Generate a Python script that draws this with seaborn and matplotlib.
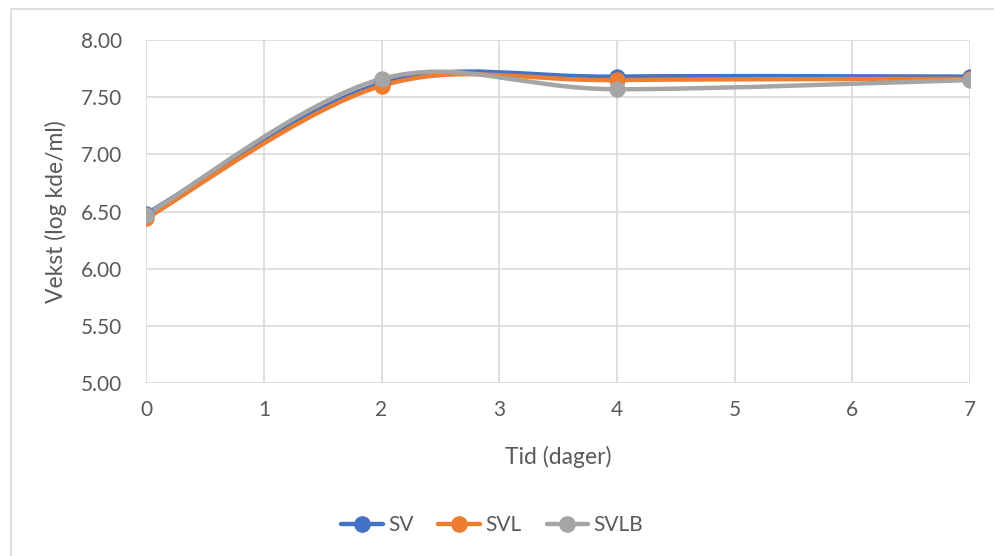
import numpy as np
import matplotlib
matplotlib.use("Agg")
import matplotlib.pyplot as plt
import seaborn as sns
import pandas as pd
from matplotlib.path import Path
from matplotlib.patches import PathPatch, Rectangle
from matplotlib.lines import Line2D

# data
days = [0, 2, 4, 7]
sv = [6.48, 7.62, 7.68, 7.68]
svl = [6.44, 7.60, 7.65, 7.66]
svlb = [6.47, 7.66, 7.57, 7.65]
series_names = ["SV", "SVL", "SVLB"]
colors = ["#4472C4", "#ED7D31", "#A5A5A5"]

df = pd.DataFrame({"Tid": days * 3,
                   "Vekst": sv + svl + svlb,
                   "Serie": np.repeat(series_names, len(days))})

sns.set_style("white")
plt.rcParams["font.family"] = ["Lato", "DejaVu Sans"]

fig = plt.figure(figsize=(9.94, 5.56), dpi=100)
ax = fig.add_axes([0.147, 0.311, 0.829, 0.617])


def smooth_path(x, y):
    # Excel-style smoothed line: cubic Bezier with Catmull-Rom control points
    pts = np.column_stack([x, y]).astype(float)
    n = len(pts)
    verts = [pts[0]]
    codes = [Path.MOVETO]
    for i in range(n - 1):
        p0 = pts[i - 1] if i > 0 else pts[i]
        p1 = pts[i]
        p2 = pts[i + 1]
        p3 = pts[i + 2] if i + 2 < n else pts[i + 1]
        c1 = p1 + (p2 - p0) / 6.0
        c2 = p2 - (p3 - p1) / 6.0
        verts += [c1, c2, p2]
        codes += [Path.CURVE4] * 3
    return Path(verts, codes)


for name, col in zip(series_names, colors):
    sub = df[df["Serie"] == name]
    patch = PathPatch(smooth_path(sub["Tid"].values, sub["Vekst"].values),
                      facecolor="none", edgecolor=col, lw=3.2,
                      capstyle="round", joinstyle="round", zorder=3)
    ax.add_patch(patch)
    sns.scatterplot(data=sub, x="Tid", y="Vekst", color=col, s=140,
                    edgecolor=col, linewidth=0, ax=ax, zorder=4, legend=False)

ax.set_xlim(0, 7)
ax.set_ylim(5, 8)
ax.set_xticks(range(8))
ax.set_yticks(np.arange(5, 8.01, 0.5))
ax.set_yticklabels([f"{v:.2f}" for v in np.arange(5, 8.01, 0.5)])
ax.grid(True, color="#d9d9d9", lw=1.2)
ax.set_axisbelow(True)
for s in ax.spines.values():
    s.set_visible(False)
ax.tick_params(axis="both", length=0, labelsize=15, colors="#595959", pad=12)
ax.tick_params(axis="y", pad=17)
ax.set_xlabel("Tid (dager)", fontsize=16.5, color="#595959", labelpad=19)
ax.set_ylabel("Vekst (log kde/ml)", fontsize=16.5, color="#595959", labelpad=10)

handles = [Line2D([0], [0], color=c, lw=3.2, marker="o", markersize=11)
           for c in colors]
fig.legend(handles, series_names, loc="center", bbox_to_anchor=(0.495, 0.055),
           ncol=3, frameon=False, fontsize=15, handlelength=2.0,
           columnspacing=1.2, handletextpad=0.25, labelcolor="#595959")

fig.patches.append(Rectangle((0.011, -0.01), 1.0, 0.993, transform=fig.transFigure,
                             fill=False, edgecolor="#d9d9d9", lw=1.2))

fig.savefig("out.png", dpi=100)
